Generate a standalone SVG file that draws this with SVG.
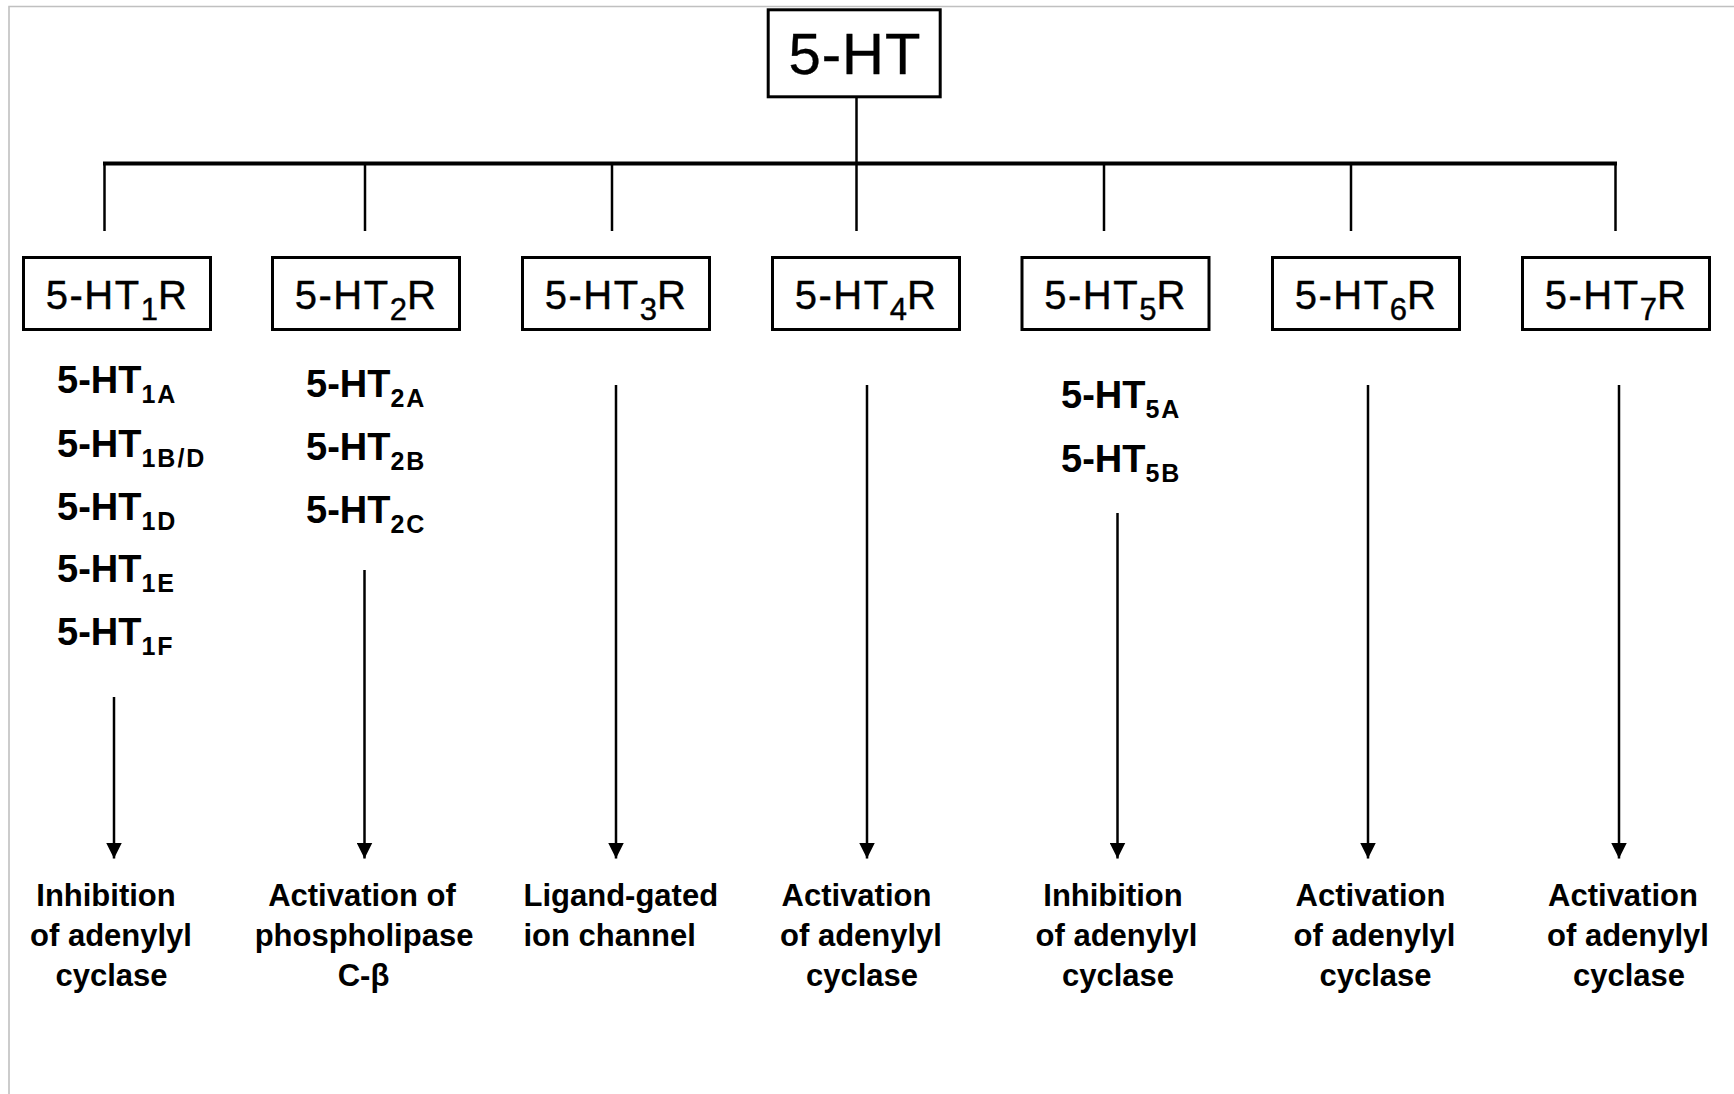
<svg xmlns="http://www.w3.org/2000/svg" width="1734" height="1094" viewBox="0 0 1734 1094">
<defs>
<style>
.box{fill:#fff;stroke:#000;stroke-width:3}
.lbl{font-family:"Liberation Sans",Arial,sans-serif;font-size:40px;letter-spacing:1.5px;fill:#000;text-anchor:middle;stroke:#000;stroke-width:0.4}
.sub{font-size:31px;letter-spacing:0}
.st{font-family:"Liberation Sans",Arial,sans-serif;font-size:38px;font-weight:bold;fill:#000}
.ss{font-size:25px;letter-spacing:2px}
.eff{font-family:"Liberation Sans",Arial,sans-serif;font-size:31px;font-weight:bold;fill:#000;text-anchor:middle}
.eff.l{text-anchor:start}
.ln{stroke:#000;stroke-width:2.5;fill:none}
</style>
<marker id="ah" viewBox="0 0 16 16" markerWidth="16" markerHeight="16" refX="16" refY="8" orient="auto" markerUnits="userSpaceOnUse">
<path d="M0,0 L16,8 L0,16 Z" fill="#000"/>
</marker>
</defs>
<rect width="1734" height="1094" fill="#fff"/>
<path d="M9,1094 V6.5 H1734" fill="none" stroke="#c0c0c0" stroke-width="1.6"/>

<g id="connectors">
<line class="ln" x1="856.5" y1="98" x2="856.5" y2="164"/>
<line x1="103" y1="163.5" x2="1617" y2="163.5" stroke="#000" stroke-width="4"/>
<line class="ln" x1="104.5" y1="163" x2="104.5" y2="231"/>
<line class="ln" x1="365" y1="163" x2="365" y2="231"/>
<line class="ln" x1="612" y1="163" x2="612" y2="231"/>
<line class="ln" x1="856.5" y1="163" x2="856.5" y2="231"/>
<line class="ln" x1="1104" y1="163" x2="1104" y2="231"/>
<line class="ln" x1="1351" y1="163" x2="1351" y2="231"/>
<line class="ln" x1="1615.5" y1="163" x2="1615.5" y2="231"/>
<line class="ln" x1="114" y1="697" x2="114" y2="858.5" marker-end="url(#ah)"/>
<line class="ln" x1="364.5" y1="570" x2="364.5" y2="858.5" marker-end="url(#ah)"/>
<line class="ln" x1="616" y1="385" x2="616" y2="858.5" marker-end="url(#ah)"/>
<line class="ln" x1="867" y1="385" x2="867" y2="858.5" marker-end="url(#ah)"/>
<line class="ln" x1="1117.5" y1="513" x2="1117.5" y2="858.5" marker-end="url(#ah)"/>
<line class="ln" x1="1368" y1="385" x2="1368" y2="858.5" marker-end="url(#ah)"/>
<line class="ln" x1="1619" y1="385" x2="1619" y2="858.5" marker-end="url(#ah)"/>
</g>

<g id="node-5HT">
<rect class="box" x="768.2" y="9.8" width="172" height="87"/>
<text x="855" y="74" class="lbl" style="font-size:58px;letter-spacing:1px">5-HT</text>
</g>

<g id="node-5HT1R">
<rect class="box" x="23.5" y="257.5" width="187" height="72"/>
<text x="117" y="308.5" class="lbl">5-HT<tspan class="sub" dy="11">1</tspan><tspan dy="-11">R</tspan></text>
</g>
<g id="node-5HT2R">
<rect class="box" x="272.5" y="257.5" width="187" height="72"/>
<text x="366" y="308.5" class="lbl">5-HT<tspan class="sub" dy="11">2</tspan><tspan dy="-11">R</tspan></text>
</g>
<g id="node-5HT3R">
<rect class="box" x="522.5" y="257.5" width="187" height="72"/>
<text x="616" y="308.5" class="lbl">5-HT<tspan class="sub" dy="11">3</tspan><tspan dy="-11">R</tspan></text>
</g>
<g id="node-5HT4R">
<rect class="box" x="772.5" y="257.5" width="187" height="72"/>
<text x="866" y="308.5" class="lbl">5-HT<tspan class="sub" dy="11">4</tspan><tspan dy="-11">R</tspan></text>
</g>
<g id="node-5HT5R">
<rect class="box" x="1022" y="257.5" width="187" height="72"/>
<text x="1115.5" y="308.5" class="lbl">5-HT<tspan class="sub" dy="11">5</tspan><tspan dy="-11">R</tspan></text>
</g>
<g id="node-5HT6R">
<rect class="box" x="1272.5" y="257.5" width="187" height="72"/>
<text x="1366" y="308.5" class="lbl">5-HT<tspan class="sub" dy="11">6</tspan><tspan dy="-11">R</tspan></text>
</g>
<g id="node-5HT7R">
<rect class="box" x="1522.5" y="257.5" width="187" height="72"/>
<text x="1616" y="308.5" class="lbl">5-HT<tspan class="sub" dy="11">7</tspan><tspan dy="-11">R</tspan></text>
</g>

<g id="subtypes-1">
<text x="57" y="393" class="st">5-HT<tspan class="ss" dy="10">1A</tspan></text>
<text x="57" y="457" class="st">5-HT<tspan class="ss" dy="10">1B/D</tspan></text>
<text x="57" y="520" class="st">5-HT<tspan class="ss" dy="10">1D</tspan></text>
<text x="57" y="582" class="st">5-HT<tspan class="ss" dy="10">1E</tspan></text>
<text x="57" y="645" class="st">5-HT<tspan class="ss" dy="10">1F</tspan></text>
</g>
<g id="subtypes-2">
<text x="306" y="397" class="st">5-HT<tspan class="ss" dy="10">2A</tspan></text>
<text x="306" y="460" class="st">5-HT<tspan class="ss" dy="10">2B</tspan></text>
<text x="306" y="523" class="st">5-HT<tspan class="ss" dy="10">2C</tspan></text>
</g>
<g id="subtypes-5">
<text x="1061" y="408" class="st">5-HT<tspan class="ss" dy="10">5A</tspan></text>
<text x="1061" y="472" class="st">5-HT<tspan class="ss" dy="10">5B</tspan></text>
</g>

<g id="effect-1">
<text x="106" y="906" class="eff">Inhibition</text>
<text x="111" y="946" class="eff">of adenylyl</text>
<text x="111.5" y="986" class="eff">cyclase</text>
</g>
<g id="effect-2">
<text x="362" y="906" class="eff">Activation of</text>
<text x="364" y="946" class="eff">phospholipase</text>
<text x="363.5" y="986" class="eff">C-β</text>
</g>
<g id="effect-3">
<text x="523.5" y="906" class="eff l">Ligand-gated</text>
<text x="523.5" y="946" class="eff l">ion channel</text>
</g>
<g id="effect-4">
<text x="856.5" y="906" class="eff">Activation</text>
<text x="861" y="946" class="eff">of adenylyl</text>
<text x="862" y="986" class="eff">cyclase</text>
</g>
<g id="effect-5">
<text x="1113" y="906" class="eff">Inhibition</text>
<text x="1116.5" y="946" class="eff">of adenylyl</text>
<text x="1118" y="986" class="eff">cyclase</text>
</g>
<g id="effect-6">
<text x="1370.5" y="906" class="eff">Activation</text>
<text x="1374.5" y="946" class="eff">of adenylyl</text>
<text x="1375.5" y="986" class="eff">cyclase</text>
</g>
<g id="effect-7">
<text x="1623" y="906" class="eff">Activation</text>
<text x="1628" y="946" class="eff">of adenylyl</text>
<text x="1629" y="986" class="eff">cyclase</text>
</g>
</svg>
